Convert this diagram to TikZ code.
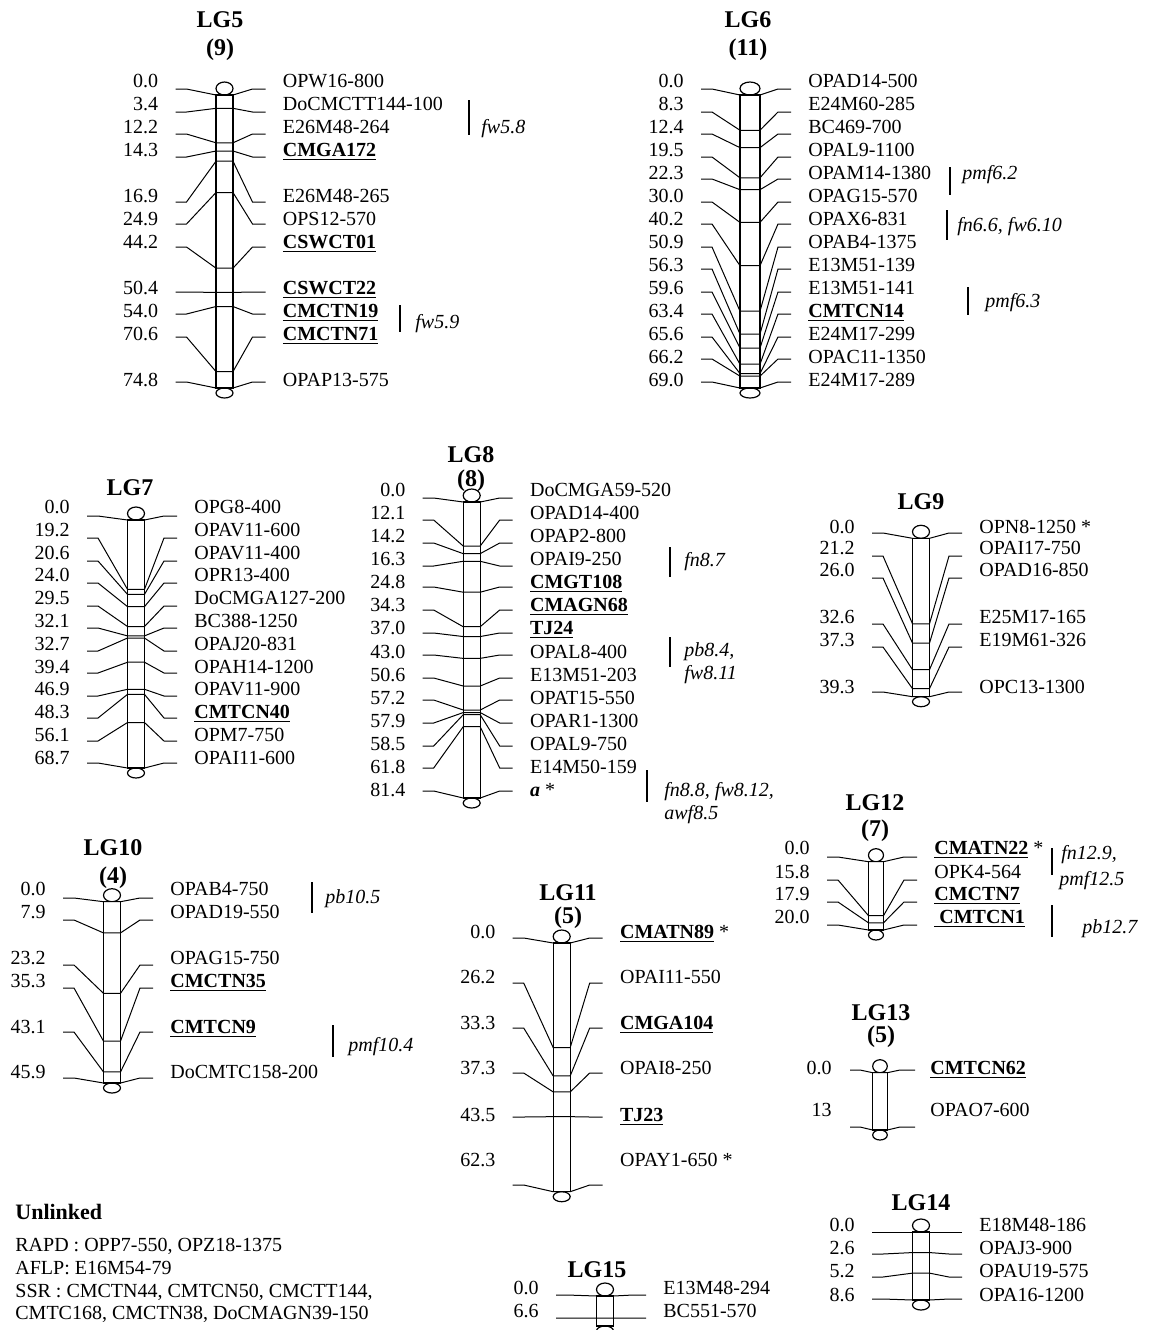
\documentclass[tikz,border=0pt]{standalone}
\usepackage{fontspec}
\setmainfont{Liberation Serif}
\usetikzlibrary{positioning}
\newcommand{\ssr}[1]{\underline{\textbf{#1}}}
% offsets of one linkage group from its bar axis
\newcommand{\lghw}{8.5}
\newcommand{\lgnum}{66}
\newcommand{\lglab}{58}
\newcommand{\lgtka}{49}
\newcommand{\lgtkb}{38}
\newcommand{\lgtkc}{28}
\newcommand{\lgtkd}{41}
% #1 name, #2 axis x, #3 bar top, #4 bar bottom, #5 length (cM), #6 pos/row/tick/marker
\newcommand{\linkmap}[6]{%
  \draw[lgbar] (#2,#3-6.5) ellipse [x radius=\lghw, y radius=6.5];
  \draw[lgbar] (#2,#4+5) ellipse [x radius=\lghw, y radius=5];
  \draw[lgbar, fill=white] (#2-\lghw,#3) rectangle (#2+\lghw,#4);
  \foreach \p/\r/\k/\lbl [count=\idx] in {#6} {
    \pgfmathsetmacro\my{#3+\p/#5*(#4-#3)}
    \node[lgpos, anchor=base east] (#1d\idx) at (#2-\lgnum,\r+6.7) {\p};
    \node[lgpos, anchor=base west] (#1m\idx) at (#2+\lglab,\r+6.7) {\lbl};
    \draw[lgtick] (#2-\lgtka,\k) -- (#2-\lgtkb,\k) -- (#2-\lghw,\my)
      -- (#2+\lghw,\my) -- (#2+\lgtkc,\k) -- (#2+\lgtkd,\k);
  }%
}

\begin{document}
\begin{tikzpicture}[x=0.5pt, y=-0.5pt,
  lgbar/.style={line width=0.6pt},
  lgtick/.style={line width=0.5pt},
  lgpos/.style={inner sep=0pt, font=\fontsize{10}{12}\selectfont},
  lghead/.style={inner sep=0pt, font=\fontsize{12}{14}\selectfont\bfseries},
  lgqtl/.style={inner sep=0pt, anchor=base west, font=\fontsize{10}{12}\selectfont\itshape},
  qline/.style={line width=0.6pt}]
  \useasboundingbox (0,0) rectangle (1150,1330);

  % LG5
  \node[lghead] (lg5h) at (220,20) {LG5};
  \node[lghead] (lg5c) at (220,50) {(9)};
  \linkmap{lg5}{224.5}{95}{388}{74.8}{0.0/81/89/OPW16-800, 3.4/104/112/DoCMCTT144-100,
    12.2/127/134/E26M48-264, 14.3/150/157/\ssr{CMGA172}, 16.9/196/202/E26M48-265,
    24.9/219/224/OPS12-570, 44.2/242/247/\ssr{CSWCT01}, 50.4/288/292/\ssr{CSWCT22},
    54.0/311/314/\ssr{CMCTN19}, 70.6/334/337/\ssr{CMCTN71}, 74.8/380/382/OPAP13-575}
  \draw[qline] (469,100) -- (469,135);
  \node[lgqtl] (q58) at (481,133.7) {fw5.8};
  \draw[qline] (400,305) -- (400,332);
  \node[lgqtl] (q59) at (415,328.7) {fw5.9};

  % LG6
  \node[lghead] (lg6h) at (748,20) {LG6};
  \node[lghead] (lg6c) at (748,50) {(11)};
  \renewcommand{\lghw}{10}
  \linkmap{lg6}{750}{95}{388}{69.0}{0.0/81/89/OPAD14-500, 8.3/104/112/E24M60-285,
    12.4/127/134/BC469-700, 19.5/150/157/OPAL9-1100, 22.3/173/179/OPAM14-1380,
    30.0/196/202/OPAG15-570, 40.2/219/224/OPAX6-831, 50.9/242/247/OPAB4-1375,
    56.3/265/269/E13M51-139, 59.6/288/292/E13M51-141, 63.4/311/314/\ssr{CMTCN14},
    65.6/334/337/E24M17-299, 66.2/357/359/OPAC11-1350, 69.0/380/382/E24M17-289}
  \renewcommand{\lghw}{8.5}
  \draw[qline] (950,167) -- (950,195);
  \node[lgqtl] (q62) at (962,179.7) {pmf6.2};
  \draw[qline] (947,210) -- (947,240);
  \node[lgqtl] (q66) at (957,231.7) {fn6.6, fw6.10};
  \draw[qline] (968,287) -- (968,315);
  \node[lgqtl] (q63) at (985,307.7) {pmf6.3};

  % LG7
  \node[lghead] (lg7h) at (130,488) {LG7};
  \linkmap{lg7}{136}{520}{768}{68.7}{0.0/507/516/OPG8-400, 19.2/530/538/OPAV11-600,
    20.6/553/561/OPAV11-400, 24.0/575/583/OPR13-400, 29.5/598/606/DoCMGA127-200,
    32.1/621/628/BC388-1250, 32.7/644/651/OPAJ20-831, 39.4/667/673/OPAH14-1200,
    46.9/689/696/OPAV11-900, 48.3/712/718/\ssr{CMTCN40}, 56.1/735/741/OPM7-750,
    68.7/758/763/OPAI11-600}

  % LG8
  \node[lghead] (lg8h) at (471,455) {LG8};
  \node[lghead] (lg8c) at (471,481) {(8)};
  \linkmap{lg8}{471.7}{502}{798}{81.4}{0.0/490/498/DoCMGA59-520, 12.1/513/520/OPAD14-400,
    14.2/536/543/OPAP2-800, 16.3/559/566/OPAI9-250, 24.8/582/587/\ssr{CMGT108},
    34.3/605/610/\ssr{CMAGN68}, 37.0/628/633/\ssr{TJ24}, 43.0/652/655/OPAL8-400,
    50.6/675/678/E13M51-203, 57.2/698/700/OPAT15-550, 57.9/721/723/OPAR1-1300,
    58.5/744/746/OPAL9-750, 61.8/767/768/E14M50-159, 81.4/790/791/\textbf{\textit{a}} *}
  \draw[qline] (670,547) -- (670,577);
  \node[lgqtl] (q87) at (684,566.7) {fn8.7};
  \draw[qline] (670,637) -- (670,667);
  \node[lgqtl] (q84) at (684,656.7) {pb8.4,};
  \node[lgqtl] (q811) at (684,679.7) {fw8.11};
  \draw[qline] (647,770) -- (647,802);
  \node[lgqtl] (q88) at (664,796.7) {fn8.8, fw8.12,};
  \node[lgqtl] (q85) at (664,819.7) {awf8.5};

  % LG9
  \node[lghead] (lg9h) at (921,502) {LG9};
  \linkmap{lg9}{921}{538.3}{696.7}{39.3}{0.0/527/533/OPN8-1250 *, 21.2/548/556/OPAI17-750,
    26.0/570/578/OPAD16-850, 32.6/617/624/E25M17-165, 37.3/640/647/E19M61-326,
    39.3/687/692/OPC13-1300}

  % LG10
  \node[lghead] (lg10h) at (113,848) {LG10};
  \node[lghead] (lg10c) at (113,878) {(4)};
  \linkmap{lg10}{112}{901.7}{1083}{45.9}{0.0/889/898/OPAB4-750, 7.9/912/920/OPAD19-550,
    23.2/958/965/OPAG15-750, 35.3/981/988/\ssr{CMCTN35}, 43.1/1027/1032/\ssr{CMTCN9},
    45.9/1072/1078/DoCMTC158-200}
  \draw[qline] (312,882) -- (312,913);
  \node[lgqtl] (q105) at (325,903.7) {pb10.5};
  \draw[qline] (333,1025) -- (333,1057);
  \node[lgqtl] (q104) at (348,1051.7) {pmf10.4};

  % LG11
  \node[lghead] (lg11h) at (568,893) {LG11};
  \node[lghead] (lg11c) at (568,918) {(5)};
  \linkmap{lg11}{561.7}{943}{1191.7}{62.3}{0.0/932/938/\ssr{CMATN89} *, 26.2/977/983/OPAI11-550,
    33.3/1023/1028/\ssr{CMGA104}, 37.3/1068/1073/OPAI8-250, 43.5/1115/1117/\ssr{TJ23},
    62.3/1160/1185/OPAY1-650 *}

  % LG12
  \node[lghead] (lg12h) at (875,803) {LG12};
  \node[lghead] (lg12c) at (875,831) {(7)};
  \renewcommand{\lghw}{7.5}
  \linkmap{lg12}{876}{861.7}{930}{20.0}{0.0/848/857/\ssr{CMATN22} *, 15.8/872/880/OPK4-564,
    17.9/894/902/\ssr{CMCTN7}, 20.0/917/925/\ssr{\ CMTCN1}}
  \draw[qline] (1052,848) -- (1052,875);
  \node[lgqtl] (q129) at (1061,859.7) {fn12.9,};
  \node[lgqtl] (q125) at (1059,885.7) {pmf12.5};
  \draw[qline] (1052,905) -- (1052,937);
  \node[lgqtl] (q127) at (1082,933.7) {pb12.7};

  % LG13
  \node[lghead] (lg13h) at (881,1013) {LG13};
  \node[lghead] (lg13c) at (881,1037) {(5)};
  \begin{scope}
    \renewcommand{\lghw}{7.3}\renewcommand{\lgnum}{48}\renewcommand{\lglab}{50}
    \renewcommand{\lgtka}{30}\renewcommand{\lgtkb}{20}
    \renewcommand{\lgtkc}{20}\renewcommand{\lgtkd}{35}
    \linkmap{lg13}{880}{1072.7}{1130}{13}{0.0/1068/1070/\ssr{CMTCN62}, 13/1110/1127/OPAO7-600}
  \end{scope}
  \renewcommand{\lghw}{8.5}

  % LG14
  \node[lghead] (lg14h) at (921,1203) {LG14};
  \linkmap{lg14}{921}{1232}{1300}{8.6}{0.0/1225/1232/E18M48-186, 2.6/1248/1254/OPAJ3-900,
    5.2/1271/1277/OPAU19-575, 8.6/1295/1299/OPA16-1200}

  % LG15
  \node[lghead] (lg15h) at (597,1270) {LG15};
  \linkmap{lg15}{605}{1296}{1326}{9.0}{0.0/1288/1295/E13M48-294, 6.6/1311/1318/BC551-570}

  % unlinked markers
  \node[lghead, anchor=base west, font=\fontsize{11}{13}\selectfont\bfseries] (unl) at (15,1219.7) {Unlinked};
  \node[lgpos, anchor=base west] (rapd) at (15,1251.7) {RAPD : OPP7-550, OPZ18-1375};
  \node[lgpos, anchor=base west] (aflp) at (15,1274.7) {AFLP: E16M54-79};
  \node[lgpos, anchor=base west] (ssra) at (15,1297.7) {SSR : CMCTN44, CMTCN50, CMCTT144,};
  \node[lgpos, anchor=base west] (ssrb) at (15,1319.7) {CMTC168, CMCTN38, DoCMAGN39-150};
\end{tikzpicture}
\end{document}
